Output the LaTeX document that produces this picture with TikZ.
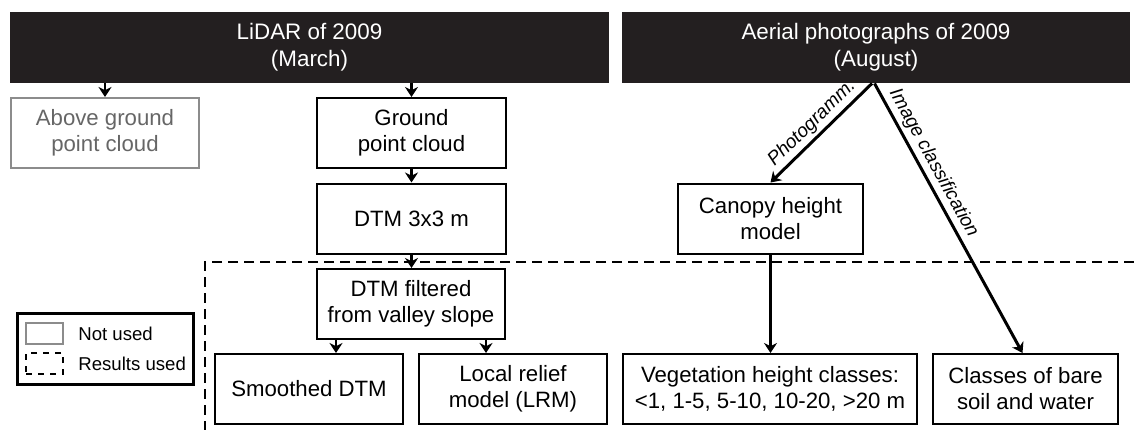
\documentclass[tikz,border=0pt]{standalone}
\usepackage{fontspec}
\setmainfont{Liberation Sans}
\usetikzlibrary{arrows.meta,positioning}
\definecolor{barblack}{HTML}{231F20}

\begin{document}
\begin{tikzpicture}[x=0.5pt,y=-0.5pt,node distance={7pt}]
				\tikzstyle{b}=[draw, line width=1pt, align=center, inner sep=0pt, font=\fontsize{11.1}{13}\selectfont, minimum height=35pt]
				\tikzstyle{bar}=[fill=barblack, text=white, align=center, inner sep=0pt, font=\fontsize{11.2}{13.5}\selectfont, minimum height=35.5pt]
				\tikzstyle{unused}=[b, draw=black!45, text=black!60]
				\tikzstyle{arr}=[-{Stealth[length=5pt,width=6.5pt]}, line width=1.4pt]
				\tikzstyle{lbl}=[font=\fontsize{9.5}{11}\itshape\selectfont, sloped, above, inner sep=1.5pt]
				\tikzstyle{legtxt}=[font=\fontsize{9.3}{11}\selectfont, inner sep=0pt]

				\useasboundingbox (0,0) rectangle (1134,430);

				% sources
				\node[bar, minimum width=299.5pt] (lidar) at (309.5,47.5) {LiDAR of 2009\\(March)};
				\node[bar, minimum width=254pt] (aerial) at (876,47.5) {Aerial photographs of 2009\\(August)};

				% lidar branch
				\node[unused, minimum width=94pt] (above) at (105,133) {Above ground\\point cloud};
				\node[b, minimum width=94.5pt] (ground) at (411.5,133) {Ground\\point cloud};
				\node[b, minimum width=94.5pt] (dtm) at (411.5,218.5) {DTM 3x3 m};
				\node[b, minimum width=94pt] (filtered) at (411,304) {DTM filtered\\from valley slope};
				\node[b, minimum width=94pt] (smoothed) at (309,389) {Smoothed DTM};
				\node[b, minimum width=94pt] (lrm) at (513,389) {Local relief\\model (LRM)};

				% aerial branch
				\node[b, minimum width=92.5pt] (canopy) at (770.5,218.5) {Canopy height\\model};
				\node[b, minimum width=147pt] (veg) at (770,389) {Vegetation height classes:\\<1, 1-5, 5-10, 10-20, >20 m};
				\node[b, minimum width=92.5pt] (classes) at (1025.5,389) {Classes of bare\\soil and water};

				% results used
				\draw[line width=0.75pt, dash pattern=on 5pt off 3pt] (1134,262) -- (205,262) -- (205,430);

				% legend
				\node[draw, line width=1.5pt, minimum width=88pt, minimum height=35.5pt] (legend) at (105,348.5) {};
				\node[draw=black!45, line width=1pt, minimum width=18.5pt, minimum height=10.5pt] (leg1) at (44.5,333.5) {};
				\node[draw, dash pattern=on 3pt off 3pt, line width=1pt, minimum width=18.5pt, minimum height=10.5pt] (leg2) at (44.5,363.5) {};
				\node[legtxt, right=of leg1] {Not used};
				\node[legtxt, right=of leg2] {Results used};

				\draw[arr] (lidar.south -| above.north) -- (above.north);
				\draw[arr] (lidar.south -| ground.north) -- (ground.north);
				\foreach \from/\to in {ground/dtm,dtm/filtered,canopy/veg}
				\draw[arr] (\from.south) -- (\from.south |- \to.north);

				\coordinate (f1) at ([xshift=10pt]filtered.south west);
				\coordinate (f2) at ([xshift=-10pt]filtered.south east);
				\draw[arr] (f1) -- (f1 |- smoothed.north);
				\draw[arr] (f2) -- (f2 |- lrm.north);

				\draw[arr, line width=1.5pt] ([xshift=-2pt]aerial.south) -- node[lbl, pos=0.5] {Photogramm.} (canopy.north);
				\draw[arr, line width=1.5pt] ([xshift=-0.75pt]aerial.south) -- node[lbl, pos=0.32] {Image classification} ([xshift=-1.5pt]classes.north);
			\end{tikzpicture}
\end{document}
